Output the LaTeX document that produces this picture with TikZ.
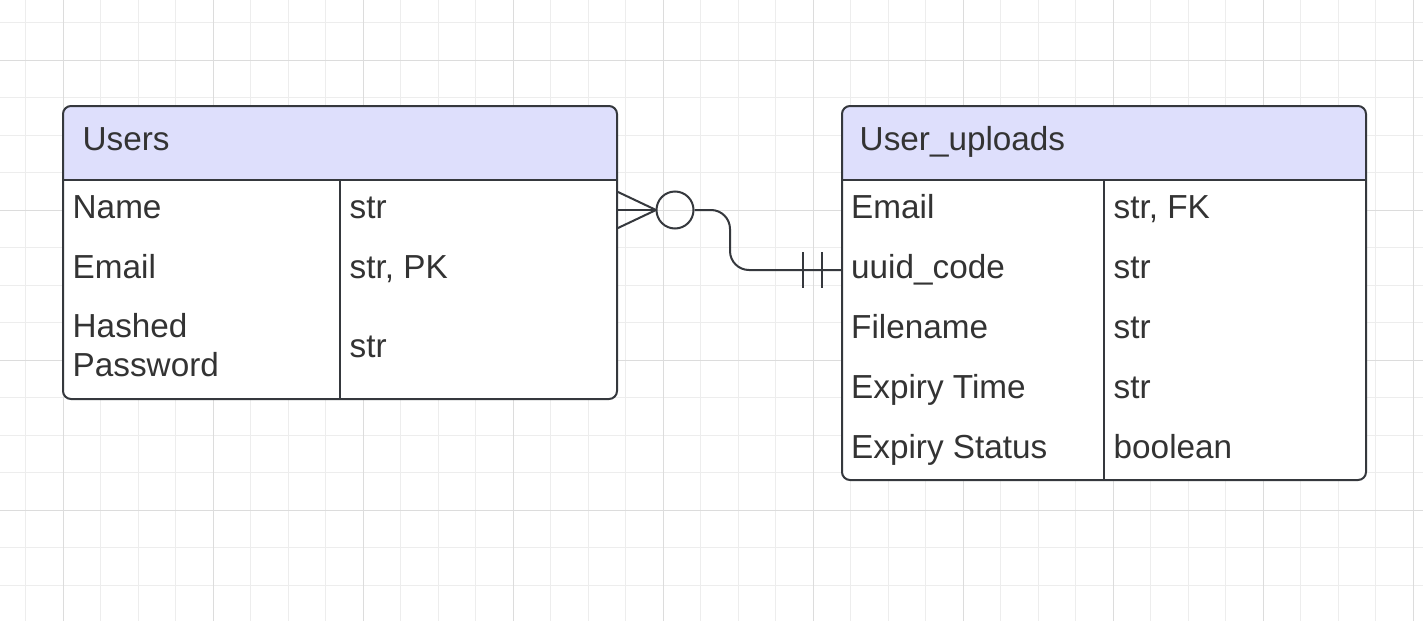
\documentclass[tikz,border=0pt]{standalone}
\usepackage{fontspec}
\setmainfont{Liberation Sans}
\definecolor{ink}{HTML}{35383D}
\definecolor{txt}{HTML}{333333}
\definecolor{hdr}{HTML}{DEDFFC}
\definecolor{gminor}{HTML}{EDEDED}
\definecolor{gmajor}{HTML}{DCDCDC}
\tikzset{
  tablebox/.style={draw=ink, line width=2pt, rounded corners=8pt, inner sep=0pt},
  cell/.style={font=\fontsize{33.3}{39}\selectfont, text=txt, anchor=base west, inner sep=0pt},
  rule/.style={draw=ink, line width=2pt},
  conn/.style={draw=ink, line width=2pt},
}
\begin{document}
\begin{tikzpicture}[x=1pt,y=-1pt]
\useasboundingbox (0,0) rectangle (1423,621);
\fill[white] (0,0) rectangle (1423,621);
% grid
\foreach \k in {0,...,37} \draw[gminor, line width=1pt] ({25.5+37.5*\k},0) -- ++(0,621);
\foreach \k in {0,...,15} \draw[gminor, line width=1pt] (0,{22.5+37.5*\k}) -- ++(1423,0);
\foreach \k in {0,...,9} \draw[gmajor, line width=1pt] ({63+150*\k},0) -- ++(0,621);
\foreach \k in {0,...,3} \draw[gmajor, line width=1pt] (0,{60+150*\k}) -- ++(1423,0);

% Users table
\begin{scope}
\clip[rounded corners=8pt] (63,106) rectangle (617,399);
\fill[white] (63,106) rectangle (617,399);
\fill[hdr] (63,106) rectangle (617,180);
\end{scope}
\node[tablebox, minimum width=554pt, minimum height=293pt] (users) at (340,252.5) {};
\draw[rule] (63,180) -- (617,180);
\draw[rule] (340,180) -- (340,399);
\node[cell] (usersT) at (82.5,150) {Users};
\node[cell] (u1a) at (72.5,218) {Name};
\node[cell] (u1b) at (349.5,218) {str};
\node[cell] (u2a) at (72.5,278) {Email};
\node[cell] (u2b) at (349.5,278) {str, PK};
\node[cell] (u3a) at (72.5,337) {Hashed};
\node[cell] (u3c) at (72.5,376) {Password};
\node[cell] (u3b) at (349.5,357) {str};

% User_uploads table
\begin{scope}
\clip[rounded corners=8pt] (842,106) rectangle (1366,480);
\fill[white] (842,106) rectangle (1366,480);
\fill[hdr] (842,106) rectangle (1366,180);
\end{scope}
\node[tablebox, minimum width=524pt, minimum height=374pt] (uploads) at (1104,293) {};
\draw[rule] (842,180) -- (1366,180);
\draw[rule] (1104,180) -- (1104,480);
\node[cell] (upT) at (859.5,150) {User\_uploads};
\node[cell] (p1a) at (851,218) {Email};
\node[cell] (p1b) at (1113.5,218) {str, FK};
\node[cell] (p2a) at (851,278) {uuid\_code};
\node[cell] (p2b) at (1113.5,278) {str};
\node[cell] (p3a) at (851,338) {Filename};
\node[cell] (p3b) at (1113.5,338) {str};
\node[cell] (p4a) at (851,398) {Expiry Time};
\node[cell] (p4b) at (1113.5,398) {str};
\node[cell] (p5a) at (851,458) {Expiry Status};
\node[cell] (p5b) at (1113.5,458) {boolean};

% connector
\coordinate (cfA) at ([yshift=42.5pt]users.east);
\coordinate (cfT) at ([yshift=60.5pt]users.east);
\coordinate (cfB) at ([yshift=24.5pt]users.east);
\coordinate (tip) at (656,210);
\node[draw=ink, line width=2pt, circle, minimum size=37pt, inner sep=0pt] (ring) at (675,210) {};
\coordinate (end) at ([yshift=23pt]uploads.west);
\draw[conn] (cfA) -- (tip);
\draw[conn] (cfT) -- (tip);
\draw[conn] (cfB) -- (tip);
\draw[conn] (tip) -- (ring.west);
\draw[conn, rounded corners=19pt] (ring.east) -- (730,210) -- (730,270) -- (end);
\draw[conn] (803,252) -- (803,288);
\draw[conn] (822,252) -- (822,288);
\end{tikzpicture}
\end{document}
